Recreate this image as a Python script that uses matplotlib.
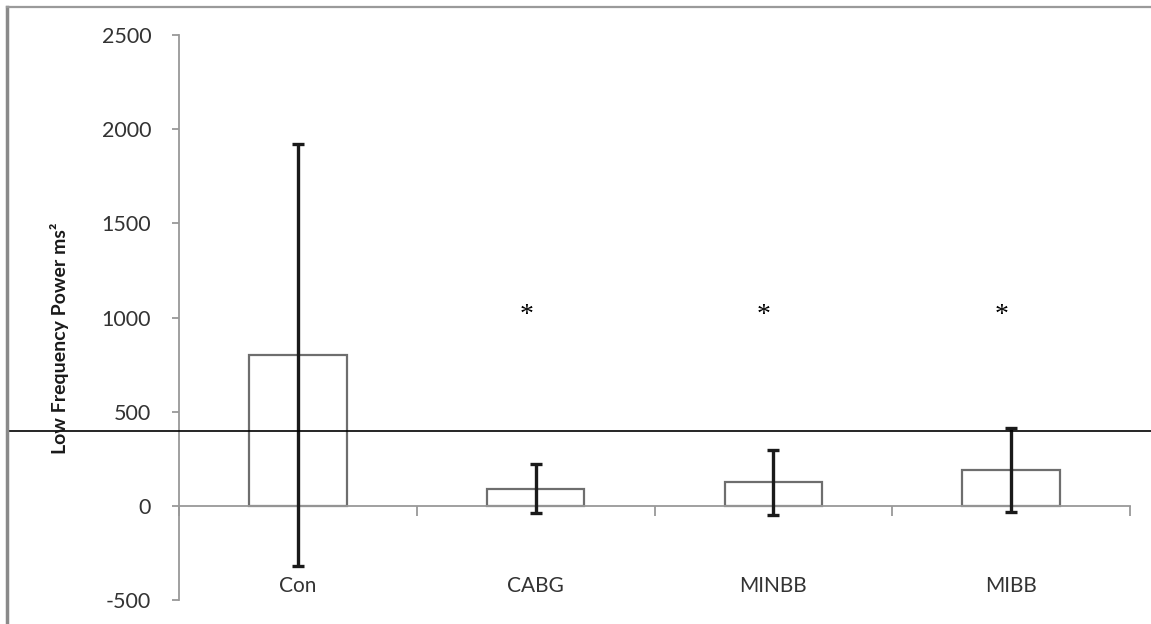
import numpy as np
import matplotlib.pyplot as plt
from matplotlib.lines import Line2D
import matplotlib.transforms as mtrans

# data
groups = ["Con", "CABG", "MINBB", "MIBB"]
means = [800, 90, 125, 190]
errors = [1120, 130, 172, 225]
signif = ["", "*", "*", "*"]
ref_level = 400

plt.rcParams['font.family'] = ['Lato', 'DejaVu Sans']
plt.rcParams['axes.unicode_minus'] = False

fig = plt.figure(figsize=(11.51, 6.24), dpi=100)
ax = fig.add_axes([179 / 1151, 1 - 600 / 624, 951 / 1151, 565 / 624])

x = np.arange(len(groups))
ax.bar(x, means, width=0.41, color='white', edgecolor='#6e6e6e', linewidth=1.6, zorder=2)
ax.errorbar(x, means, yerr=errors, fmt='none', ecolor='#1a1a1a', elinewidth=2.4,
            capsize=4, capthick=2.4, zorder=3)

ax.set_xlim(-0.5, len(groups) - 0.5)
ax.set_ylim(-500, 2500)
ax.set_yticks(np.arange(-500, 2501, 500))
ax.set_xticks(np.arange(-0.5, len(groups), 1.0))
ax.set_xticklabels([])

for s in ['top', 'right']:
    ax.spines[s].set_visible(False)
ax.spines['bottom'].set_position(('data', 0))
ax.spines['left'].set_color('#999999')
ax.spines['bottom'].set_color('#999999')
ax.spines['left'].set_linewidth(1.3)
ax.spines['bottom'].set_linewidth(1.3)
ax.tick_params(axis='y', direction='out', length=5, color='#999999', width=1.3,
               labelsize=15.5, labelcolor='#333333', pad=15)
ax.tick_params(axis='x', direction='out', length=7, color='#999999', width=1.3)

# category labels sit low, near the bottom of the plot
for xi, g in zip(x, groups):
    ax.text(xi, -425, g, ha='center', va='center', fontsize=15, color='#333333')

# significance stars
for xi, s in zip(x, signif):
    if s:
        ax.text(xi - 0.04, 1010, s, ha='center', va='center', fontsize=20,
                family='Liberation Serif', color='black')

fig.text(60 / 1151, 1 - 338 / 624, "Low Frequency Power ms²", rotation=90,
         ha='center', va='center', fontsize=14, fontweight='bold', color='#1a1a1a')

# horizontal reference line running across the whole figure
tr = mtrans.blended_transform_factory(fig.transFigure, ax.transData)
ax.plot([7 / 1151, 1.0], [ref_level, ref_level], color='black', linewidth=1.2,
        transform=tr, clip_on=False, zorder=4)

# grey frame on left and top
fig.add_artist(Line2D([7 / 1151, 7 / 1151], [0, 1 - 7 / 624], color='#8a8a8a',
                      linewidth=2.5, transform=fig.transFigure))
fig.add_artist(Line2D([7 / 1151, 1], [1 - 7 / 624, 1 - 7 / 624], color='#9a9a9a',
                      linewidth=1.6, transform=fig.transFigure))

fig.savefig("out.png", dpi=100)
